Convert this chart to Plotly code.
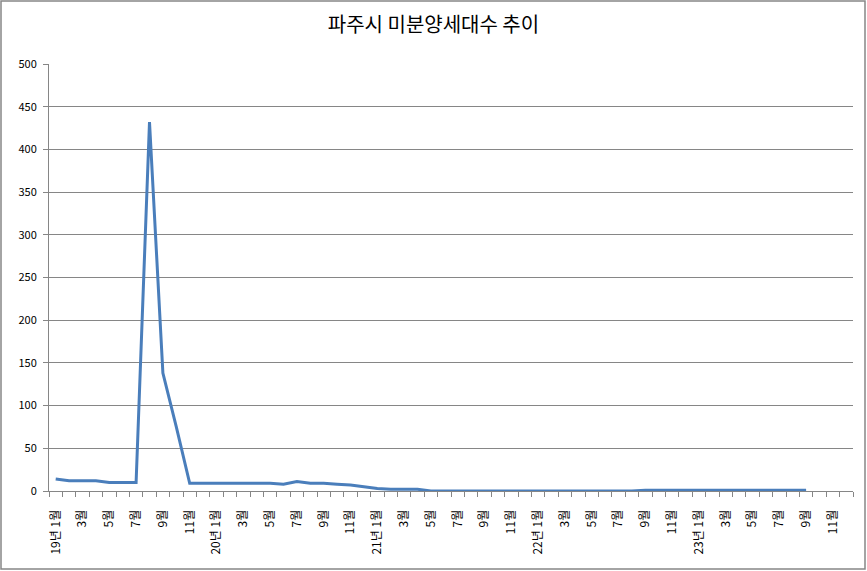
import plotly.graph_objects as go

years = ["19", "20", "21", "22", "23"]
month_nums = list(range(1, 13))

# 19년 1월 ~ 23년 12월 (마지막 3개월은 자료 없음)
months = [f"{y}년 {m}월" for y in years for m in month_nums]
tick_text = [
    (f"{y}년 {m}월" if m == 1 else f"{m}월") if m % 2 == 1 else ""
    for y in years
    for m in month_nums
]

unsold_19 = [14, 12, 12, 12, 10, 10, 10, 432, 138, 75, 9, 9]
unsold_20 = [9, 9, 9, 9, 9, 8, 11, 9, 9, 8, 7, 5]
unsold_21 = [3, 2, 2, 2, 0, 0, 0, 0, 0, 0, 0, 0]
unsold_22 = [0, 0, 0, 0, 0, 0, 0, 0, 1, 1, 1, 1]
unsold_23 = [1, 1, 1, 1, 1, 1, 1, 1, 1, None, None, None]
unsold = unsold_19 + unsold_20 + unsold_21 + unsold_22 + unsold_23

grey = "#868686"
font_kr = "Noto Sans CJK KR"

fig = go.Figure()

fig.add_trace(
    go.Scatter(
        x=months,
        y=unsold,
        mode="lines",
        line=dict(color="#4a7ebb", width=3),
        name="미분양세대수",
        showlegend=False,
    )
)

fig.update_xaxes(
    type="category",
    tickmode="array",
    tickvals=months,
    ticktext=tick_text,
    tickson="boundaries",
    ticks="outside",
    ticklen=5,
    tickcolor=grey,
    tickangle=-90,
    ticklabelstandoff=13,
    tickfont=dict(family=font_kr, size=12, color="#000000"),
    showline=True,
    linecolor=grey,
    showgrid=False,
    automargin=False,
    range=[-0.5, len(months) - 0.5],
)

fig.update_yaxes(
    range=[0, 500],
    dtick=50,
    showgrid=True,
    gridcolor=grey,
    showline=True,
    linecolor=grey,
    ticks="outside",
    ticklen=5,
    tickcolor=grey,
    ticklabelstandoff=4,
    zeroline=False,
    automargin=False,
    tickfont=dict(family=font_kr, size=11, color="#000000"),
)

# 차트 테두리
fig.add_shape(
    type="rect",
    xref="paper",
    yref="paper",
    x0=-48 / 804,
    x1=816 / 804,
    y0=-78 / 427,
    y1=490 / 427,
    line=dict(color=grey, width=1.5),
)

fig.update_layout(
    title=dict(
        text="파주시 미분양세대수 추이",
        x=0.5,
        xanchor="center",
        y=1 - 25 / 571,
        yanchor="middle",
        font=dict(family=font_kr, size=20, color="#000000"),
    ),
    width=867,
    height=571,
    margin=dict(l=49, r=14, t=64, b=80),
    plot_bgcolor="white",
    paper_bgcolor="white",
)

fig.write_html(
    "out.html",
    config={"displayModeBar": False},
    post_script="document.body.style.margin = '0';",
)
